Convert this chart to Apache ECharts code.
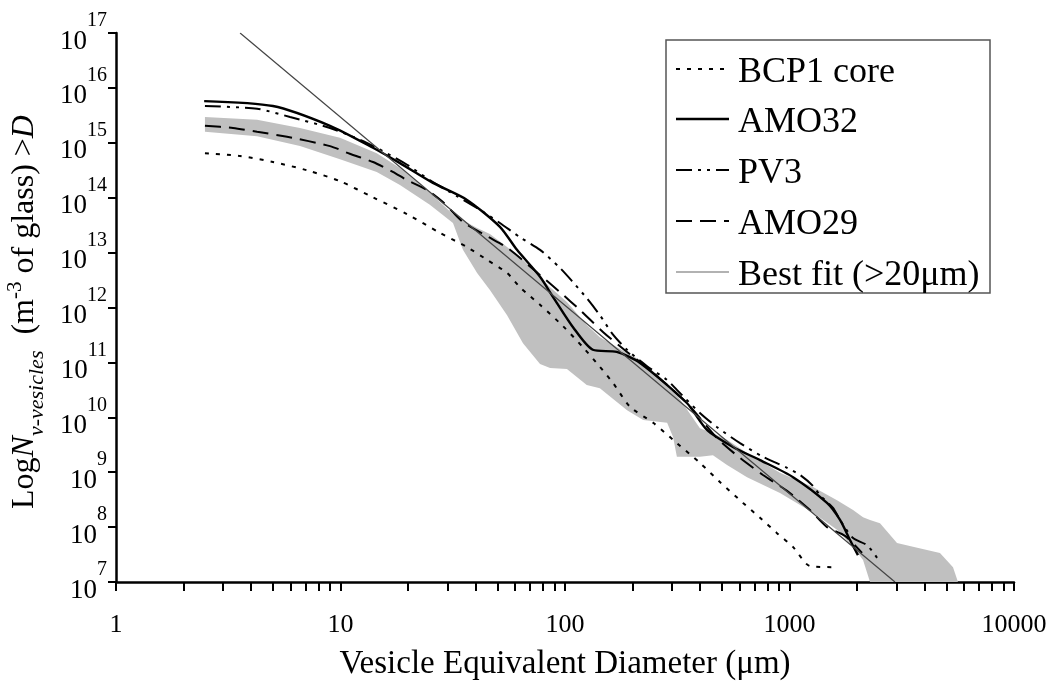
<!DOCTYPE html>
<html><head><meta charset="utf-8">
<script src="https://cdn.jsdelivr.net/npm/echarts@6/dist/echarts.min.js"></script>
<style>html,body{margin:0;padding:0;background:#fff}#c{width:1052px;height:688px}</style>
</head><body><div id="c"></div>
<script>
const FONT = "'Liberation Serif','Times New Roman',serif";

// Axis tick labels
const xTickLabels = ['1', '10', '100', '1000', '10000'];
const yTickExponents = [7, 8, 9, 10, 11, 12, 13, 14, 15, 16, 17];

// Series names
const seriesNames = ['BCP1 core', 'AMO32', 'PV3', 'AMO29', 'Best fit (>20\u03bcm)'];

// Diameters in micrometres, values as log10 of N (m^-3 of glass) > D
const bcpD    = [2.49, 3.57, 5.00, 7.09, 9.95, 13.9, 19.8, 27.7, 36.6, 44.9, 55.2, 63.0, 77.4, 98.0, 120, 143, 164, 195, 247, 315, 399, 490, 621, 739, 880, 1036, 1234, 1595];
const bcpLogN = [14.81, 14.76, 14.65, 14.50, 14.30, 14.01, 13.70, 13.36, 13.10, 12.87, 12.63, 12.37, 12.05, 11.66, 11.28, 10.92, 10.62, 10.19, 9.90, 9.53, 9.17, 8.82, 8.44, 8.17, 7.89, 7.64, 7.29, 7.27];

const amo32D    = [2.47, 5.00, 8.98, 13.96, 18.4, 25.8, 36.6, 51.3, 61.1, 77.4, 88.5, 108.6, 133, 170, 216, 349, 429, 560, 739, 1037, 1469, 1679, 1862, 2018];
const amo32LogN = [15.76, 15.67, 15.31, 14.91, 14.63, 14.27, 13.96, 13.47, 13.05, 12.56, 12.19, 11.64, 11.23, 11.19, 10.99, 10.26, 9.77, 9.46, 9.22, 8.91, 8.44, 8.13, 7.76, 7.49];

const pv3D    = [2.49, 4.25, 5.96, 8.98, 13.1, 19.8, 25.0, 33.0, 41.8, 51.3, 63.0, 77.4, 95.0, 108.6, 125, 143, 164, 189, 232, 285, 315, 399, 476, 602, 762, 975, 1114, 1273, 1368, 1563, 1679, 1919, 2214, 2455];
const pv3LogN = [15.67, 15.62, 15.47, 15.27, 15.00, 14.60, 14.32, 14.03, 13.78, 13.54, 13.28, 13.05, 12.72, 12.46, 12.17, 11.86, 11.50, 11.23, 10.93, 10.68, 10.50, 10.08, 9.82, 9.53, 9.28, 9.08, 8.95, 8.75, 8.58, 8.35, 8.13, 7.80, 7.67, 7.44];

const amo29D    = [2.49, 3.32, 4.25, 5.78, 8.98, 11.0, 13.96, 17.1, 19.8, 24.3, 28.6, 35.1, 44.9, 55.7, 77.4, 95.0, 117, 148, 189, 239, 349, 476, 602, 762, 975, 1234, 1469, 1767, 2104];
const amo29LogN = [15.31, 15.27, 15.20, 15.11, 14.94, 14.80, 14.65, 14.47, 14.32, 14.14, 13.92, 13.56, 13.30, 13.08, 12.59, 12.28, 11.95, 11.55, 11.19, 10.86, 10.26, 9.62, 9.26, 8.95, 8.66, 8.31, 8.00, 7.84, 7.53];

const fitD    = [3.57, 2950];
const fitLogN = [17.0, 7.0];

// Grey envelope
const bandD        = [2.49, 4.25, 6.60, 9.95, 14.5, 18.4, 25.0, 31.7, 35.1, 40.6, 46.3, 55.2, 65.0, 77.4, 85.8, 102, 125, 143, 189, 223, 285, 303, 315, 399, 456, 527, 647, 907, 1273, 1628, 1919, 2126, 2284, 2530, 3012, 3548, 4680, 5350, 5630];
const bandHighLogN = [15.47, 15.42, 15.27, 15.09, 14.81, 14.54, 14.09, 13.70, 13.59, 13.45, 13.34, 13.10, 12.87, 12.56, 12.37, 12.10, 11.68, 11.46, 11.17, 11.01, 10.59, 10.50, 10.41, 9.80, 9.71, 9.59, 9.35, 8.99, 8.73, 8.49, 8.31, 8.18, 8.13, 8.07, 7.71, 7.64, 7.53, 7.27, 7.0];
const bandLowLogN  = [15.20, 15.12, 14.94, 14.70, 14.47, 14.23, 13.87, 13.54, 13.05, 12.63, 12.32, 11.86, 11.35, 10.97, 10.90, 10.88, 10.59, 10.53, 10.13, 9.95, 9.90, 9.64, 9.28, 9.28, 9.31, 9.13, 8.91, 8.62, 8.26, 7.95, 7.64, 7.40, 7.0, 7.0, 7.0, 7.0, 7.0, 7.0, 7.0];

function pts(D, L) { return D.map((d, i) => [Math.log10(d), L[i]]); }

const tickVals = [];
for (let e = 0; e < 4; e++) for (let k = 1; k < 10; k++) tickVals.push(e + Math.log10(k));
tickVals.push(4);

const dashBCP = [4, 7];
const dashPV3 = [16, 6, 3, 6, 3, 6];
const dashAMO29 = [16, 8];
const styles = [
  {color: '#000', width: 2, type: dashBCP},
  {color: '#000', width: 2.4, type: 'solid'},
  {color: '#000', width: 2, type: dashPV3},
  {color: '#000', width: 2, type: dashAMO29},
  {color: '#444', width: 1.2, type: 'solid'}
];
const seriesData = [pts(bcpD, bcpLogN), pts(amo32D, amo32LogN), pts(pv3D, pv3LogN), pts(amo29D, amo29LogN), pts(fitD, fitLogN)];

const chart = echarts.init(document.getElementById('c'));

const series = [{
  type: 'custom', silent: true, z: 1, clip: true,
  encode: {x: 0, y: 1},
  data: [[0, 7]],
  renderItem: function (params, api) {
    if (params.dataIndex !== 0) return null;
    const up = bandD.map((d, i) => api.coord([Math.log10(d), bandHighLogN[i]]));
    const lo = bandD.map((d, i) => api.coord([Math.log10(d), bandLowLogN[i]])).reverse();
    return {type: 'polygon', shape: {points: up.concat(lo)}, style: {fill: '#c0c0c0', stroke: null}};
  }
}];
seriesData.forEach((d, i) => {
  series.push({
    name: seriesNames[i], type: 'line', data: d, showSymbol: false, symbol: 'none',
    smooth: i === 4 ? false : 0.25, z: 3 + (i === 4 ? 1 : 0),
    lineStyle: styles[i], silent: true
  });
});

// Legend drawn as graphics
const legendX1 = 676, legendX2 = 729, legendTextX = 738;
const legendYs = [69, 119, 170, 221, 272];
const graphics = [{
  type: 'rect', shape: {x: 666, y: 40, width: 324, height: 253},
  style: {fill: '#fff', stroke: '#555', lineWidth: 1.5}, z: 10
}];
legendYs.forEach((y, i) => {
  graphics.push({
    type: 'line', shape: {x1: legendX1, y1: y, x2: legendX2, y2: y},
    style: {stroke: styles[i].color === '#444' ? '#666' : '#000', lineWidth: styles[i].width,
      lineDash: Array.isArray(styles[i].type) ? styles[i].type : null}, z: 11
  });
  graphics.push({
    type: 'text', x: legendTextX, y: y + 4,
    style: {text: seriesNames[i], fill: '#000', font: '36px ' + FONT, align: 'left', verticalAlign: 'middle'}, z: 11
  });
});
// Y axis title
graphics.push({
  type: 'text', x: 27, y: 312, rotation: Math.PI / 2,
  style: {
    text: '{n|Log}{i|N}{sub|v-vesicles}{n|  (m}{sup|-3}{n| of glass) >}{i|D}',
    align: 'center', verticalAlign: 'middle', fill: '#000',
    rich: {
      n: {fontSize: 32, fontFamily: FONT, fill: '#000', lineHeight: 32, padding: [4, 0, 8, 0]},
      i: {fontSize: 32, fontFamily: FONT, fontStyle: 'italic', fill: '#000', lineHeight: 32, padding: [4, 0, 8, 0]},
      sub: {fontSize: 22, fontFamily: FONT, fontStyle: 'italic', fill: '#000', lineHeight: 24, padding: [20, 0, 0, 0]},
      sup: {fontSize: 21, fontFamily: FONT, fill: '#000', lineHeight: 20, padding: [0, 0, 24, 0]}
    }
  }
});

chart.setOption({
  animation: false,
  backgroundColor: '#fff',
  grid: {left: 116, right: 38, top: 33, bottom: 106, containLabel: false},
  xAxis: {
    type: 'value', min: 0, max: 4, interval: 1,
    axisLine: {show: true, onZero: false, lineStyle: {color: '#000', width: 2.5}},
    axisTick: {show: true, customValues: tickVals, length: 9, lineStyle: {color: '#000', width: 2}},
    axisLabel: {margin: 30, fontFamily: FONT, fontSize: 26, color: '#000',
      formatter: v => xTickLabels[Math.round(v)]},
    splitLine: {show: false},
    name: 'Vesicle Equivalent Diameter (\u03bcm)', nameLocation: 'middle', nameGap: 66,
    nameTextStyle: {fontFamily: FONT, fontSize: 33, color: '#000'}
  },
  yAxis: {
    type: 'value', min: 7, max: 17, interval: 1,
    axisLine: {show: true, onZero: false, lineStyle: {color: '#000', width: 2.5}},
    axisTick: {show: true, length: 8, lineStyle: {color: '#000', width: 2}},
    axisLabel: {
      margin: 9,
      formatter: v => '{a|10}{b|' + yTickExponents[Math.round(v) - 7] + '}',
      rich: {
        a: {fontFamily: FONT, fontSize: 27, color: '#000', lineHeight: 26, padding: [17, 0, 0, 0]},
        b: {fontFamily: FONT, fontSize: 20, color: '#000', lineHeight: 19, padding: [0, 0, 24, 0]}
      }
    },
    splitLine: {show: false}
  },
  series: series,
  graphic: graphics
});
</script></body></html>
